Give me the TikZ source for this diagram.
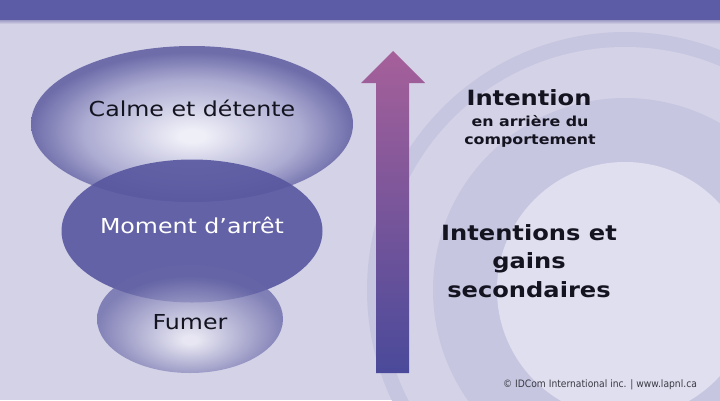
\documentclass[tikz,border=0pt]{standalone}
\usepackage{fontspec}
\setmainfont{DejaVu Sans}[FakeStretch=1.15]
\newfontfamily\footfont{DejaVu Sans Condensed}
\usetikzlibrary{shapes.geometric}

\definecolor{bgc}{HTML}{D4D2E7}
\definecolor{bandc}{HTML}{5C5BA5}
\definecolor{shadowc}{HTML}{9E9CC4}
\definecolor{ringdark}{HTML}{C7C6E1}
\definecolor{ringlight}{HTML}{E0DFEF}
\definecolor{calmein}{HTML}{EFEFF8}
\definecolor{calmemid}{HTML}{ABAAD1}
\definecolor{calmeout}{HTML}{6E6DAA}
\definecolor{fumerin}{HTML}{EEEEF7}
\definecolor{fumerout}{HTML}{6665A6}
\definecolor{momentc}{HTML}{57569F}
\definecolor{arrowtop}{HTML}{A6609A}
\definecolor{arrowbot}{HTML}{4A4A9A}
\definecolor{inkc}{HTML}{141420}
\definecolor{footc}{HTML}{3A3A44}

% radial shadings (path box = central 50bp square), bright spot below the centre
\pgfdeclareradialshading{calmeshade}{\pgfpoint{0bp}{-4bp}}{%
  color(0bp)=(calmein); color(2bp)=(calmein); color(17bp)=(calmemid);
  color(25bp)=(calmeout); color(50bp)=(calmeout)}
\pgfdeclareradialshading{fumershade}{\pgfpoint{0bp}{-10bp}}{%
  color(0bp)=(fumerin); color(2bp)=(fumerin); color(25bp)=(fumerout); color(50bp)=(fumerout)}

\tikzset{
  blob/.style={ellipse, inner sep=0pt, draw=none},
  softtext/.style={font=\fontsize{20.6}{24}\selectfont, inner sep=0pt, anchor=base},
  boldbig/.style={font=\fontsize{21}{28.5}\selectfont\bfseries, text=inkc, inner sep=0pt, align=center},
  boldsmall/.style={font=\fontsize{13.8}{18}\selectfont\bfseries, text=inkc, inner sep=0pt, align=center},
}

\begin{document}
\begin{tikzpicture}[x=1pt,y=-1pt]
\useasboundingbox (0,0) rectangle (720,400);
\fill[bgc] (0,0) rectangle (720,400);

% concentric rings on the right
\begin{scope}
  \clip (0,20) rectangle (720,400);
  \fill[ringdark] (625,290) circle[radius=258];
  \fill[bgc] (625,290) circle[radius=243];
  \fill[ringdark] (625,290) circle[radius=192];
  \fill[ringlight] (625,290) circle[radius=128];
\end{scope}

% title band with its soft shadow
\shade[top color=shadowc, bottom color=bgc] (0,20) rectangle (720,24);
\fill[bandc] (0,0) rectangle (720,20);

% stacked ellipses
\node[blob, minimum width=322pt, minimum height=156pt, shading=calmeshade] (calme) at (192,124) {};
\node[blob, minimum width=261pt, minimum height=143pt, fill=momentc, fill opacity=0.9] (moment) at (192,231) {};
\begin{scope}[transparency group, opacity=0.75]
  \node[blob, minimum width=186pt, minimum height=108pt, shading=fumershade] (fumer) at (190,319) {};
\end{scope}

\node[softtext, text=inkc] (tcalme) at (192,116) {Calme et détente};
\node[softtext, text=white] (tmoment) at (192,233) {Moment d’arrêt};
\node[softtext, text=inkc] (tfumer) at (190,329) {Fumer};

% upward arrow
\shade[top color=arrowtop, bottom color=arrowbot]
  (376,373) -- (376,83) -- (361,83) -- (393,51) -- (425,83) -- (409,83) -- (409,373) -- cycle;

% right-hand texts
\node[boldbig] (intention) at (529,98) {Intention};
\node[boldsmall] (derriere) at (530,131) {en arrière du\\comportement};
\node[boldbig] (gains) at (529,261) {Intentions et\\gains\\secondaires};

\node[font=\footfont\fontsize{10.2}{12}\selectfont, text=footc, inner sep=0pt] (credit) at (600,385)
  {© IDCom International inc. | www.lapnl.ca};
\end{tikzpicture}
\end{document}
